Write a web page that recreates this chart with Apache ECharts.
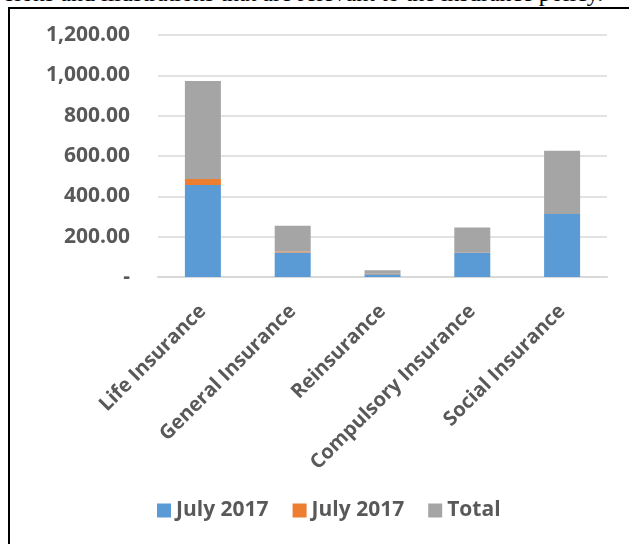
<!DOCTYPE html>
<html>
<head>
<meta charset="utf-8">
<script src="https://cdn.jsdelivr.net/npm/echarts@6/dist/echarts.min.js"></script>
<style>
  html, body { margin: 0; padding: 0; background: #fff; }
  #page { position: relative; width: 629px; height: 544px; overflow: hidden; }
  #frase {
    position: absolute; left: 5px; top: -19px; white-space: nowrap; line-height: 24px;
    font-family: "Liberation Serif", serif; font-size: 24px; color: #000;
  }
  #marco {
    position: absolute; left: 8px; top: 7px; width: 640px; height: 560px;
    border-left: 2px solid #000; border-top: 2px solid #000;
  }
  #grafica { position: absolute; left: 0; top: 0; width: 629px; height: 544px; }
</style>
</head>
<body>
<div id="page">
  <div id="frase">sions and illustrations that are relevant to the insurance policy.</div>
  <div id="marco"></div>
  <div id="grafica"></div>
</div>
<script>
// Datos
const categorias = ['Life Insurance', 'General Insurance', 'Reinsurance', 'Compulsory Insurance', 'Social Insurance'];
const julio2017a = [456, 122, 14, 121, 312];
const julio2017b = [30, 5, 2.5, 2, 1];
const totales = [486, 127, 16.5, 123, 313];
const nombresSeries = ['July 2017', 'July 2017', 'Total'];
const colores = ['#5b9bd5', '#ed7d31', '#a5a5a5'];

document.addEventListener('DOMContentLoaded', function() {
    const chart = echarts.init(document.getElementById('grafica'), null, { renderer: 'canvas' });
    const fuente = '"Open Sans"';
    const gris = '#595959';

    const valores = [julio2017a, julio2017b, totales];
    // el segundo nombre lleva un espacio para que la leyenda no los junte
    const series = valores.map((datos, i) => ({
        name: nombresSeries[i] + (i === 1 ? ' ' : ''),
        type: 'bar',
        stack: 'total',
        barWidth: 36,
        data: datos,
        itemStyle: { color: colores[i] },
        emphasis: { disabled: true }
    }));

    const option = {
        animation: false,
        grid: { left: 158, right: 22, top: 35, bottom: 267 },
        legend: {
            left: 152,
            top: 495,
            itemWidth: 14,
            itemHeight: 14,
            itemGap: 24,
            icon: 'rect',
            data: series.map(s => s.name),
            formatter: n => n.trim(),
            textStyle: { color: gris, fontFamily: fuente, fontWeight: 'bold', fontSize: 21 }
        },
        xAxis: {
            type: 'category',
            data: categorias,
            axisLine: { lineStyle: { color: '#d9d9d9', width: 2 } },
            axisTick: { show: false },
            axisLabel: {
                rotate: 45,
                interval: 0,
                margin: 31,
                color: gris,
                fontFamily: fuente,
                fontWeight: 'bold',
                fontSize: 20
            }
        },
        yAxis: {
            type: 'value',
            min: 0,
            max: 1200,
            interval: 200,
            axisLine: { show: false },
            axisTick: { show: false },
            splitLine: { lineStyle: { color: '#d9d9d9', width: 1.5 } },
            axisLabel: {
                margin: 28,
                color: gris,
                fontFamily: fuente,
                fontWeight: 'bold',
                fontSize: 21,
                formatter: v => v === 0 ? '-' : v.toLocaleString('en-US', { minimumFractionDigits: 2, maximumFractionDigits: 2 })
            }
        },
        series: series
    };

    chart.setOption(option);
});
</script>
</body>
</html>
